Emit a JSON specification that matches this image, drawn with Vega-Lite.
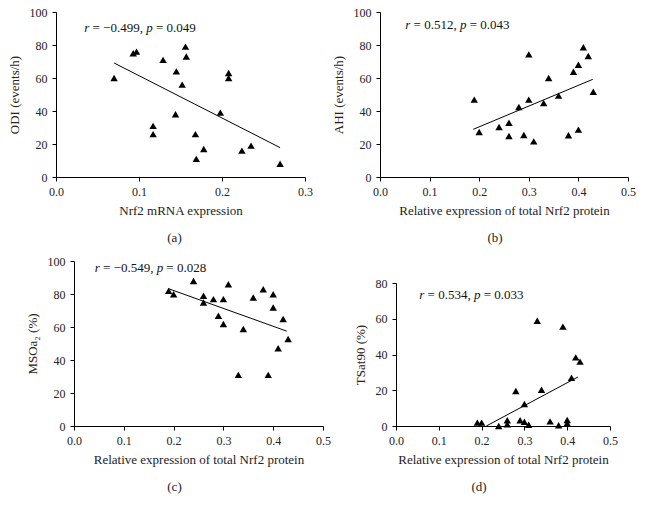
{
  "$schema": "https://vega.github.io/schema/vega-lite/v6.json",
  "padding": {"left": 8, "top": 6, "right": 5, "bottom": 5},
  "background": "white",
  "columns": 2,
  "bounds": "flush",
  "spacing": {"row": 84, "column": 57},
  "datasets": {
    "pa": [
      {"x": 0.070, "y": 60}, {"x": 0.093, "y": 75}, {"x": 0.097, "y": 76}, {"x": 0.129, "y": 71},
      {"x": 0.156, "y": 79}, {"x": 0.157, "y": 73}, {"x": 0.145, "y": 64}, {"x": 0.152, "y": 56},
      {"x": 0.144, "y": 38}, {"x": 0.117, "y": 31}, {"x": 0.117, "y": 26}, {"x": 0.168, "y": 26},
      {"x": 0.169, "y": 11}, {"x": 0.178, "y": 17}, {"x": 0.198, "y": 39}, {"x": 0.208, "y": 63},
      {"x": 0.208, "y": 60}, {"x": 0.224, "y": 16}, {"x": 0.235, "y": 19}, {"x": 0.270, "y": 8}
    ],
    "la": [{"x": 0.070, "y": 69.1}, {"x": 0.270, "y": 17.8}],
    "ta": [{"x": 0.034, "y": 90.3, "r": "r", "rv": "= −0.499,", "p": "p", "pv": "= 0.049"}],
    "pb": [
      {"x": 0.19, "y": 46.9}, {"x": 0.20, "y": 27.3}, {"x": 0.24, "y": 30.3}, {"x": 0.26, "y": 32.9},
      {"x": 0.26, "y": 24.8}, {"x": 0.28, "y": 42.4}, {"x": 0.29, "y": 25.5}, {"x": 0.30, "y": 74.3},
      {"x": 0.30, "y": 46.9}, {"x": 0.31, "y": 21.6}, {"x": 0.33, "y": 44.8}, {"x": 0.34, "y": 60},
      {"x": 0.36, "y": 49.3}, {"x": 0.38, "y": 25.3}, {"x": 0.39, "y": 63.8}, {"x": 0.40, "y": 68},
      {"x": 0.40, "y": 28.7}, {"x": 0.41, "y": 78.6}, {"x": 0.42, "y": 73.3}, {"x": 0.43, "y": 51.7}
    ],
    "lb": [{"x": 0.188, "y": 28.9}, {"x": 0.429, "y": 59.2}],
    "tb": [{"x": 0.051, "y": 91.9, "r": "r", "rv": "= 0.512,", "p": "p", "pv": "= 0.043"}],
    "pc": [
      {"x": 0.19, "y": 81.9}, {"x": 0.20, "y": 79.9}, {"x": 0.24, "y": 87.9}, {"x": 0.26, "y": 78.9},
      {"x": 0.26, "y": 74.8}, {"x": 0.28, "y": 76.9}, {"x": 0.29, "y": 66.8}, {"x": 0.30, "y": 76.9},
      {"x": 0.30, "y": 61.8}, {"x": 0.31, "y": 85.9}, {"x": 0.33, "y": 31}, {"x": 0.34, "y": 58.8},
      {"x": 0.36, "y": 77.9}, {"x": 0.38, "y": 82.9}, {"x": 0.39, "y": 31}, {"x": 0.40, "y": 79.9},
      {"x": 0.40, "y": 71.8}, {"x": 0.41, "y": 47.1}, {"x": 0.42, "y": 64.8}, {"x": 0.43, "y": 52.7}
    ],
    "lc": [{"x": 0.189, "y": 83.3}, {"x": 0.427, "y": 57.5}],
    "tc": [{"x": 0.0415, "y": 95.6, "r": "r", "rv": "= −0.549,", "p": "p", "pv": "= 0.028"}],
    "pd": [
      {"x": 0.19, "y": 1.9}, {"x": 0.20, "y": 1.9}, {"x": 0.24, "y": 0}, {"x": 0.26, "y": 3.2},
      {"x": 0.26, "y": 0.9}, {"x": 0.28, "y": 19.6}, {"x": 0.29, "y": 3.2}, {"x": 0.30, "y": 2.4},
      {"x": 0.30, "y": 12.3}, {"x": 0.31, "y": 0.7}, {"x": 0.33, "y": 58.9}, {"x": 0.34, "y": 20.3},
      {"x": 0.36, "y": 2.6}, {"x": 0.38, "y": 0.4}, {"x": 0.39, "y": 55.6}, {"x": 0.40, "y": 3.4},
      {"x": 0.40, "y": 1.5}, {"x": 0.41, "y": 27}, {"x": 0.42, "y": 38.4}, {"x": 0.43, "y": 36}
    ],
    "ld": [{"x": 0.211, "y": 0}, {"x": 0.425, "y": 27.4}],
    "td": [{"x": 0.0544, "y": 73.1, "r": "r", "rv": "= 0.534,", "p": "p", "pv": "= 0.033"}]
  },
  "concat": [
    {
      "width": 249, "height": 165,
      "title": {"text": "(a)", "orient": "bottom", "offset": 15, "dx": -6},
      "encoding": {
        "x": {"field": "x", "type": "quantitative", "scale": {"domain": [0, 0.3], "nice": false},
              "axis": {"title": "Nrf2 mRNA expression", "values": [0, 0.1, 0.2, 0.3], "format": ".1f"}},
        "y": {"field": "y", "type": "quantitative", "scale": {"domain": [0, 100], "nice": false},
              "axis": {"title": "ODI (events/h)", "values": [0, 20, 40, 60, 80, 100], "titlePadding": 8}}
      },
      "layer": [
        {"data": {"name": "pa"}, "mark": {"type": "point", "shape": "triangle-up", "filled": true, "color": "#000", "opacity": 1, "size": 55}},
        {"data": {"name": "la"}, "mark": {"type": "line", "color": "#000", "strokeWidth": 1}},
        {"data": {"name": "ta"}, "mark": {"type": "text", "align": "left", "baseline": "middle", "fontSize": 13, "fontStyle": "italic", "color": "#111"}, "encoding": {"text": {"field": "r"}}},
        {"data": {"name": "ta"}, "mark": {"type": "text", "align": "left", "baseline": "middle", "fontSize": 13, "dx": 8.3, "color": "#111"}, "encoding": {"text": {"field": "rv"}}},
        {"data": {"name": "ta"}, "mark": {"type": "text", "align": "left", "baseline": "middle", "fontSize": 13, "fontStyle": "italic", "dx": 62, "color": "#111"}, "encoding": {"text": {"field": "p"}}},
        {"data": {"name": "ta"}, "mark": {"type": "text", "align": "left", "baseline": "middle", "fontSize": 13, "dx": 71.7, "color": "#111"}, "encoding": {"text": {"field": "pv"}}}
      ]
    },
    {
      "width": 248, "height": 165,
      "title": {"text": "(b)", "orient": "bottom", "offset": 15, "dx": -9},
      "encoding": {
        "x": {"field": "x", "type": "quantitative", "scale": {"domain": [0, 0.5], "nice": false},
              "axis": {"title": "Relative expression of total Nrf2 protein", "values": [0, 0.1, 0.2, 0.3, 0.4, 0.5], "format": ".1f"}},
        "y": {"field": "y", "type": "quantitative", "scale": {"domain": [0, 100], "nice": false},
              "axis": {"title": "AHI (events/h)", "values": [0, 20, 40, 60, 80, 100], "titlePadding": 8}}
      },
      "layer": [
        {"data": {"name": "pb"}, "mark": {"type": "point", "shape": "triangle-up", "filled": true, "color": "#000", "opacity": 1, "size": 55}},
        {"data": {"name": "lb"}, "mark": {"type": "line", "color": "#000", "strokeWidth": 1}},
        {"data": {"name": "tb"}, "mark": {"type": "text", "align": "left", "baseline": "middle", "fontSize": 13, "fontStyle": "italic", "color": "#111"}, "encoding": {"text": {"field": "r"}}},
        {"data": {"name": "tb"}, "mark": {"type": "text", "align": "left", "baseline": "middle", "fontSize": 13, "dx": 8.3, "color": "#111"}, "encoding": {"text": {"field": "rv"}}},
        {"data": {"name": "tb"}, "mark": {"type": "text", "align": "left", "baseline": "middle", "fontSize": 13, "fontStyle": "italic", "dx": 54.7, "color": "#111"}, "encoding": {"text": {"field": "p"}}},
        {"data": {"name": "tb"}, "mark": {"type": "text", "align": "left", "baseline": "middle", "fontSize": 13, "dx": 64.4, "color": "#111"}, "encoding": {"text": {"field": "pv"}}}
      ]
    },
    {
      "width": 267, "height": 165,
      "title": {"text": "(c)", "orient": "bottom", "offset": 15, "dx": -15},
      "encoding": {
        "x": {"field": "x", "type": "quantitative", "scale": {"domain": [0, 0.5], "nice": false, "range": [18, 267]},
              "axis": {"title": "Relative expression of total Nrf2 protein", "values": [0, 0.1, 0.2, 0.3, 0.4, 0.5], "format": ".1f"}},
        "y": {"field": "y", "type": "quantitative", "scale": {"domain": [0, 100], "nice": false},
              "axis": {"title": "MSOa₂ (%)", "values": [0, 20, 40, 60, 80, 100], "titlePadding": 8, "offset": -18}}
      },
      "layer": [
        {"data": {"name": "pc"}, "mark": {"type": "point", "shape": "triangle-up", "filled": true, "color": "#000", "opacity": 1, "size": 55}},
        {"data": {"name": "lc"}, "mark": {"type": "line", "color": "#000", "strokeWidth": 1}},
        {"data": {"name": "tc"}, "mark": {"type": "text", "align": "left", "baseline": "middle", "fontSize": 13, "fontStyle": "italic", "color": "#111"}, "encoding": {"text": {"field": "r"}}},
        {"data": {"name": "tc"}, "mark": {"type": "text", "align": "left", "baseline": "middle", "fontSize": 13, "dx": 8.3, "color": "#111"}, "encoding": {"text": {"field": "rv"}}},
        {"data": {"name": "tc"}, "mark": {"type": "text", "align": "left", "baseline": "middle", "fontSize": 13, "fontStyle": "italic", "dx": 62, "color": "#111"}, "encoding": {"text": {"field": "p"}}},
        {"data": {"name": "tc"}, "mark": {"type": "text", "align": "left", "baseline": "middle", "fontSize": 13, "dx": 71.7, "color": "#111"}, "encoding": {"text": {"field": "pv"}}}
      ]
    },
    {
      "width": 230, "height": 165,
      "title": {"text": "(d)", "orient": "bottom", "offset": 15, "dx": -16},
      "encoding": {
        "x": {"field": "x", "type": "quantitative", "scale": {"domain": [0, 0.5], "nice": false, "range": [16, 230]},
              "axis": {"title": "Relative expression of total Nrf2 protein", "values": [0, 0.1, 0.2, 0.3, 0.4, 0.5], "format": ".1f"}},
        "y": {"field": "y", "type": "quantitative", "scale": {"domain": [0, 80], "nice": false, "range": [165, 22]},
              "axis": {"title": "TSat90 (%)", "values": [0, 20, 40, 60, 80], "titlePadding": 8, "offset": -16}}
      },
      "layer": [
        {"data": {"name": "pd"}, "mark": {"type": "point", "shape": "triangle-up", "filled": true, "color": "#000", "opacity": 1, "size": 55}},
        {"data": {"name": "ld"}, "mark": {"type": "line", "color": "#000", "strokeWidth": 1}},
        {"data": {"name": "td"}, "mark": {"type": "text", "align": "left", "baseline": "middle", "fontSize": 13, "fontStyle": "italic", "color": "#111"}, "encoding": {"text": {"field": "r"}}},
        {"data": {"name": "td"}, "mark": {"type": "text", "align": "left", "baseline": "middle", "fontSize": 13, "dx": 8.3, "color": "#111"}, "encoding": {"text": {"field": "rv"}}},
        {"data": {"name": "td"}, "mark": {"type": "text", "align": "left", "baseline": "middle", "fontSize": 13, "fontStyle": "italic", "dx": 54.7, "color": "#111"}, "encoding": {"text": {"field": "p"}}},
        {"data": {"name": "td"}, "mark": {"type": "text", "align": "left", "baseline": "middle", "fontSize": 13, "dx": 64.4, "color": "#111"}, "encoding": {"text": {"field": "pv"}}}
      ]
    }
  ],
  "config": {
    "view": {"stroke": null},
    "font": "Liberation Serif",
    "axis": {
      "grid": false, "domainColor": "#000", "tickColor": "#000", "tickSize": 4,
      "labelFont": "Liberation Serif", "labelFontSize": 12, "labelColor": "#222", "labelPadding": 5, "labelFlush": false,
      "titleFont": "Liberation Serif", "titleFontSize": 13, "titleFontWeight": "normal", "titleColor": "#222", "titlePadding": 7
    },
    "title": {"font": "Liberation Serif", "fontSize": 13, "fontWeight": "normal", "color": "#222"}
  }
}
